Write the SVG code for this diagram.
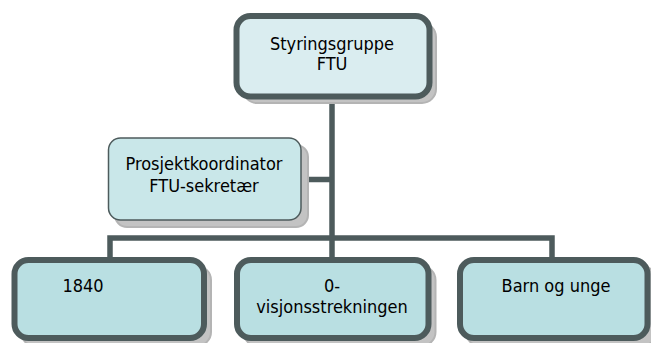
<svg xmlns="http://www.w3.org/2000/svg" width="651" height="343" viewBox="0 0 651 343">
<style>
.box{stroke:#4d5b5c;stroke-width:6}
.shadow{fill:#c3c3c3;stroke:#b4b4b4;stroke-width:2}
.lbl{font-family:"DejaVu Sans Condensed","DejaVu Sans",Verdana,sans-serif;font-stretch:condensed;font-size:18px;fill:#000;text-anchor:middle}
.conn{stroke:#4d5b5c;stroke-width:5.5;fill:none}
</style>
<rect width="651" height="343" fill="#fff"/>
<g id="connectors">
<line class="conn" x1="332" y1="96" x2="332" y2="260"/>
<line class="conn" x1="301" y1="179.5" x2="332" y2="179.5"/>
<polyline class="conn" points="110,260 110,238 552,238 552,260"/>
</g>
<g id="n-styringsgruppe">
<rect class="shadow" x="243" y="23" width="193" height="80" rx="14"/>
<rect class="box" x="236.5" y="16" width="193" height="80.5" rx="14" fill="#daedf0" stroke-width="6.5"/>
<text class="lbl" x="332" y="50">Styringsgruppe</text>
<text class="lbl" x="332" y="70">FTU</text>
</g>
<g id="n-prosjektkoordinator">
<rect class="shadow" x="115" y="145" width="193" height="82" rx="12"/>
<rect x="108.5" y="138" width="192.5" height="82" rx="12" fill="#c9e7e9" stroke="#4d5b5c" stroke-width="1.5"/>
<text class="lbl" x="204" y="170">Prosjektkoordinator</text>
<text class="lbl" x="204" y="192">FTU-sekretær</text>
</g>
<g id="n-1840">
<rect class="shadow" x="21" y="266" width="190" height="80" rx="14"/>
<rect class="box" x="14.5" y="260" width="189.5" height="78" rx="14" fill="#b9dfe2"/>
<text class="lbl" x="83" y="292">1840</text>
</g>
<g id="n-0visjon">
<rect class="shadow" x="243.5" y="266" width="192" height="80" rx="14"/>
<rect class="box" x="237" y="260" width="191.5" height="78" rx="14" fill="#b9dfe2"/>
<text class="lbl" x="332" y="292">0-</text>
<text class="lbl" x="332" y="313">visjonsstrekningen</text>
</g>
<g id="n-barn">
<rect class="shadow" x="466" y="266" width="190" height="80" rx="14"/>
<rect class="box" x="460" y="260" width="187.5" height="78" rx="14" fill="#b9dfe2"/>
<text class="lbl" x="556" y="292">Barn og unge</text>
</g>
</svg>
